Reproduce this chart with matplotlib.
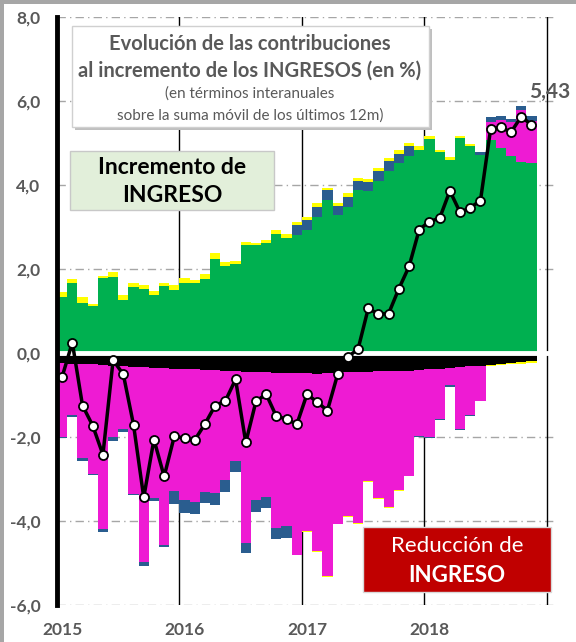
import matplotlib
matplotlib.use("Agg")
import matplotlib.pyplot as plt
from matplotlib.patches import Rectangle
import numpy as np

plt.rcParams['font.family'] = ['Lato', 'DejaVu Sans']

# monthly data, Jan 2015 .. Nov 2018
# positive contributions
pos_green = [1.34, 1.67, 1.20, 1.13, 1.79, 1.81, 1.26, 1.57, 1.52, 1.38, 1.60, 1.51,
             1.67, 1.67, 1.76, 2.25, 2.07, 2.11, 2.56, 2.58, 2.63, 2.84, 2.75, 2.80,
             2.93, 3.23, 3.64, 3.28, 3.48, 3.89, 3.86, 4.10, 4.34, 4.52, 4.69, 4.83,
             5.10, 4.79, 4.60, 5.12, 4.93, 4.71, 5.06, 4.87, 4.68, 4.55, 4.53]
pos_magenta = [0]*42 + [0.45, 0.67, 0.81, 1.23, 1.00]
pos_blue = [0]*23 + [0.24, 0.24, 0.25, 0.24, 0.23, 0.24, 0.21, 0.22, 0.23, 0.23, 0.22, 0.24,
                     0, 0, 0, 0, 0, 0, 0.08, 0.12, 0.11, 0.07, 0.11, 0.12]
pos_yellow = [0.12, 0.09, 0.13, 0.04, 0.04, 0.11, 0.11, 0.10, 0.10, 0.10, 0.07, 0.11,
              0.12, 0.08, 0.13, 0.12, 0.09, 0.09, 0.08, 0.05, 0.07, 0.09, 0.08, 0.09,
              0.07, 0.10, 0.06, 0.07, 0.08, 0.07, 0.06, 0.08, 0.08, 0.09, 0.06, 0.10,
              0.07, 0.04, 0.06, 0.05, 0.05, 0, 0, 0, 0, 0, 0]
# negative contributions (magnitudes, stacked downward)
neg_black = [0.24, 0.25, 0.26, 0.27, 0.29, 0.30, 0.31, 0.33, 0.34, 0.35, 0.36, 0.37,
             0.38, 0.39, 0.40, 0.41, 0.42, 0.44, 0.45, 0.46, 0.46, 0.47, 0.47, 0.48,
             0.48, 0.49, 0.48, 0.47, 0.46, 0.45, 0.45, 0.44, 0.43, 0.43, 0.42, 0.40,
             0.39, 0.37, 0.36, 0.34, 0.32, 0.30, 0.28, 0.26, 0.24, 0.22, 0.20]
neg_magenta = [1.75, 1.23, 2.25, 2.60, 3.91, 1.71, 1.50, 3.03, 4.64, 3.11, 4.21, 2.92,
               3.12, 3.15, 2.90, 2.92, 2.60, 2.14, 4.07, 3.05, 2.96, 3.69, 3.66, 4.32,
               3.75, 4.22, 4.83, 3.59, 3.42, 3.59, 2.60, 3.02, 3.23, 2.84, 2.50, 1.57,
               1.62, 1.21, 0.41, 1.46, 1.16, 0.84, 0, 0, 0, 0, 0]
neg_blue = [0.03, 0.04, 0.05, 0.03, 0.05, 0.08, 0.06, 0.03, 0.08, 0.06, 0.04, 0.31,
            0.30, 0.29, 0.28, 0.29, 0.28, 0.26, 0.25, 0.28, 0.26, 0.26, 0.27, 0,
            0, 0, 0, 0, 0, 0, 0, 0, 0, 0, 0, 0.02,
            0.02, 0.02, 0.03, 0.03, 0.03, 0, 0, 0, 0, 0, 0]
neg_yellow = [0]*23 + [0.02]*12 + [0]*7 + [0.02, 0.03, 0.03, 0.03, 0.03]
# total variation (line)
total = [-0.57, 0.25, -1.25, -1.73, -2.42, -0.17, -0.51, -1.71, -3.44, -2.06, -2.94, -1.98,
         -2.03, -2.07, -1.69, -1.25, -1.14, -0.63, -2.13, -1.15, -0.98, -1.51, -1.57, -1.70,
         -0.98, -1.17, -1.37, -0.51, -0.09, 0.09, 1.06, 0.93, 0.94, 1.53, 2.06, 2.94,
         3.13, 3.21, 3.86, 3.35, 3.46, 3.63, 5.34, 5.37, 5.26, 5.63, 5.43]

years = ["2015", "2016", "2017", "2018"]
yticks = [-6, -4, -2, 0, 2, 4, 6, 8]

GREEN, YELLOW, BLUE, MAG = "#00B050", "#FFFF00", "#2A5D8F", "#EE1BD3"
GRAY = "#595959"

W, H = 576, 642
fig = plt.figure(figsize=(W/100, H/100), dpi=100)
ax = fig.add_axes([57/W, 37/H, 500/W, 588/H])

x = np.arange(len(total)) + 0.5
# positive stack
bot = np.zeros(len(x))
for vals, col in [(pos_green, GREEN), (pos_magenta, MAG), (pos_blue, BLUE), (pos_yellow, YELLOW)]:
    v = np.array(vals)
    ax.bar(x, v, 1.0, bottom=bot, color=col, lw=0, zorder=2)
    bot += v
# negative stack
bot = np.zeros(len(x))
for vals, col in [(neg_black, "black"), (neg_magenta, MAG), (neg_blue, BLUE), (neg_yellow, YELLOW)]:
    v = -np.array(vals)
    ax.bar(x, v, 1.0, bottom=bot, color=col, lw=0, zorder=2)
    bot += v

ax.axhline(0, color="white", lw=3.5, zorder=3)
ax.plot(x, total, color="black", lw=2.5, marker="o", ms=6.5, mfc="white", mec="black",
        mew=1.3, zorder=5)

# grid
for yv in yticks:
    if yv != 0:
        ax.axhline(yv, color="#A6A6A6", lw=1, ls=(0, (6, 3, 1, 3)), zorder=1)
for xv in [12, 24, 36, 48]:
    ax.axvline(xv, color="black", lw=1, zorder=1)

ax.set_xlim(0, 49)
ax.set_ylim(-6, 8)
ax.set_yticks(yticks)
ax.set_yticklabels([f"{v:.1f}".replace(".", ",") for v in yticks])
ax.set_xticks([0.5, 12.5, 24.5, 36.5])
ax.set_xticklabels(years)
ax.tick_params(length=0, labelsize=12.5, labelcolor=GRAY)
ax.tick_params(axis="y", pad=12)
ax.tick_params(axis="x", pad=12)
for lab in ax.get_xticklabels() + ax.get_yticklabels():
    lab.set_fontweight("bold")
for sp in ["top", "right", "bottom"]:
    ax.spines[sp].set_visible(False)
ax.spines["left"].set_linewidth(3.5)
ax.spines["left"].set_zorder(6)

ax.text(48.3, 6.21, "5,43", fontsize=15, fontweight="bold", color=GRAY, ha="center", va="center",
        zorder=6)

def fx(px):
    return px / W
def fy(py):
    return 1 - py / H

# title box with shadow
fig.patches.append(Rectangle((fx(75), fy(130)), (429-72)/W, (127-26)/H, transform=fig.transFigure,
                             facecolor="#BFBFBF", edgecolor="none", zorder=7))
fig.patches.append(Rectangle((fx(72), fy(127)), (429-72)/W, (127-26)/H, transform=fig.transFigure,
                             facecolor="white", edgecolor="#D0D0D0", lw=1, zorder=8))
fig.text(fx(250), fy(44), "Evolución de las contribuciones", fontsize=14.5, fontweight="bold",
         color=GRAY, ha="center", va="center", zorder=9)
fig.text(fx(250), fy(71), "al incremento de los INGRESOS (en %)", fontsize=14.5, fontweight="bold",
         color=GRAY, ha="center", va="center", zorder=9)
fig.text(fx(250), fy(94), "(en términos interanuales", fontsize=11,
         color=GRAY, ha="center", va="center", zorder=9)
fig.text(fx(250), fy(116), "sobre la suma móvil de los últimos 12m)", fontsize=11,
         color=GRAY, ha="center", va="center", zorder=9)

# increment box
fig.patches.append(Rectangle((fx(70), fy(210)), (274-70)/W, (210-151)/H, transform=fig.transFigure,
                             facecolor="#E2EFDA", edgecolor="#C8C8C8", lw=1, zorder=8))
fig.text(fx(172), fy(167), "Incremento de", fontsize=16.5, fontweight="bold", color="black",
         ha="center", va="center", zorder=9)
fig.text(fx(172), fy(196), "INGRESO", fontsize=16.5, fontweight="bold", color="black",
         ha="center", va="center", zorder=9)

# reduction box
fig.patches.append(Rectangle((fx(363), fy(592)), (551-363)/W, (592-527)/H, transform=fig.transFigure,
                             facecolor="#C00000", edgecolor="#D9D9D9", lw=1, zorder=8))
fig.text(fx(457), fy(546), "Reducción de", fontsize=16, color="white",
         ha="center", va="center", zorder=9)
fig.text(fx(457), fy(575), "INGRESO", fontsize=16, fontweight="bold", color="white",
         ha="center", va="center", zorder=9)

# outer frame (left and top only)
fig.patches.append(Rectangle((0, 0), 4/W, 1, transform=fig.transFigure, facecolor="#A6A6A6",
                             edgecolor="none", zorder=10))
fig.patches.append(Rectangle((0, 1 - 4/H), 1, 4/H, transform=fig.transFigure, facecolor="#A6A6A6",
                             edgecolor="none", zorder=10))

fig.savefig("out.png", dpi=100)
